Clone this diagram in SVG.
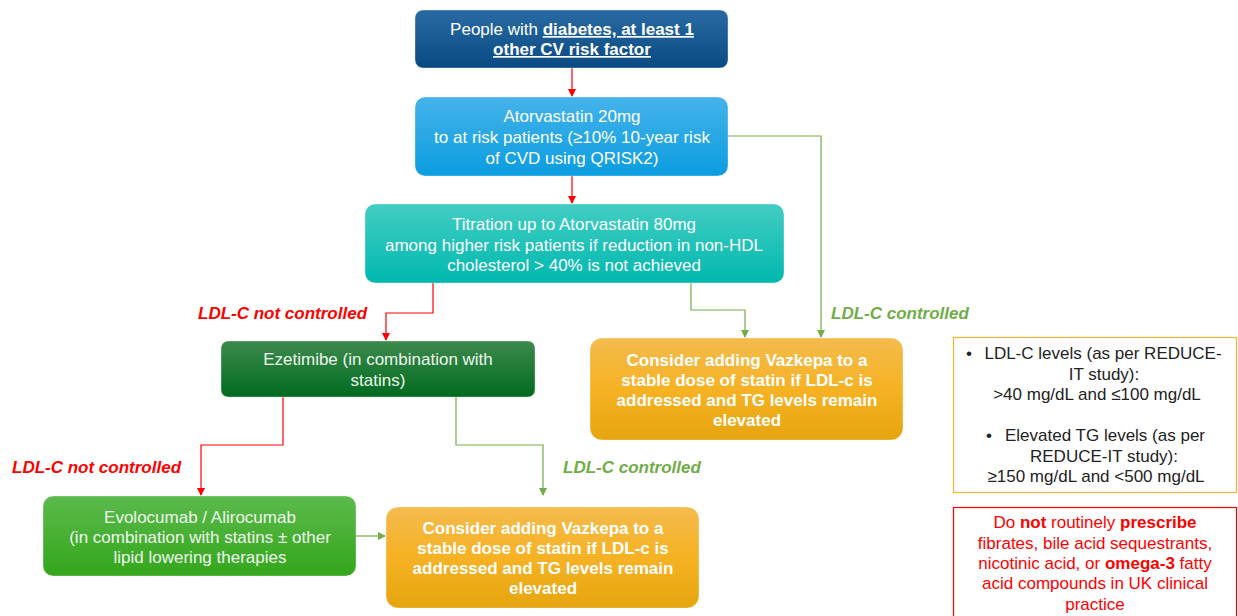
<svg xmlns="http://www.w3.org/2000/svg" width="1238" height="616" viewBox="0 0 1238 616">
<defs>
<linearGradient id="gNavy" x1="0" y1="0" x2="0" y2="1"><stop offset="0" stop-color="#2a6aa3"/><stop offset="1" stop-color="#0a4a82"/></linearGradient>
<linearGradient id="gSky" x1="0" y1="0" x2="0" y2="1"><stop offset="0" stop-color="#45b3ea"/><stop offset="1" stop-color="#0a9de0"/></linearGradient>
<linearGradient id="gTeal" x1="0" y1="0" x2="0" y2="1"><stop offset="0" stop-color="#43cdc3"/><stop offset="1" stop-color="#00b8ae"/></linearGradient>
<linearGradient id="gDkGreen" x1="0" y1="0" x2="0" y2="1"><stop offset="0" stop-color="#3d8a4c"/><stop offset="1" stop-color="#006b1f"/></linearGradient>
<linearGradient id="gGreen" x1="0" y1="0" x2="0" y2="1"><stop offset="0" stop-color="#5bba4b"/><stop offset="1" stop-color="#34a61c"/></linearGradient>
<linearGradient id="gOrange" x1="0" y1="0" x2="0" y2="1"><stop offset="0" stop-color="#f4bb4e"/><stop offset="0.5" stop-color="#f6b223"/><stop offset="1" stop-color="#e6a50f"/></linearGradient>
<marker id="aRed" markerWidth="8" markerHeight="8" refX="7" refY="4" orient="auto" markerUnits="userSpaceOnUse"><path d="M0,0 L8,4 L0,8 z" fill="#ff0000"/></marker>
<marker id="aGreen" markerWidth="8" markerHeight="8" refX="7" refY="4" orient="auto" markerUnits="userSpaceOnUse"><path d="M0,0 L8,4 L0,8 z" fill="#70ad47"/></marker>
<style>
text{font-family:"Liberation Sans",Arial,sans-serif;font-size:17px;}
.w{fill:#ffffff;text-anchor:middle;}
.wl{fill:#eef6ee;text-anchor:middle;}
.wb{fill:#ffffff;text-anchor:middle;font-weight:bold;}
.box{stroke:#ffffff;stroke-opacity:0.35;stroke-width:1;}
.red{stroke:#ff0000;stroke-width:1.2;fill:none;}
.grn{stroke:#70ad47;stroke-width:1.2;fill:none;}
.lr{fill:#ff0000;font-weight:bold;font-style:italic;}
.lg{fill:#70ad47;font-weight:bold;font-style:italic;}
.dk{fill:#222222;text-anchor:middle;}
.dkl{fill:#222222;}
.rd{fill:#ff0000;text-anchor:middle;}
</style>
</defs>
<rect width="1238" height="616" fill="#ffffff"/>

<g id="connectors">
<path class="red" d="M572,68 V96" marker-end="url(#aRed)"/>
<path class="red" d="M572,176 V203" marker-end="url(#aRed)"/>
<path class="grn" d="M728,136 H821 V337" marker-end="url(#aGreen)"/>
<path class="grn" d="M691,283 V310 H745 V337" marker-end="url(#aGreen)"/>
<path class="red" d="M433,283 V313 H386 V340" marker-end="url(#aRed)"/>
<path class="red" d="M283,397 V445 H201 V495" marker-end="url(#aRed)"/>
<path class="grn" d="M456,397 V445 H543 V495" marker-end="url(#aGreen)"/>
<path class="grn" d="M356,536 H385" marker-end="url(#aGreen)"/>
<text class="lr" x="198" y="319">LDL-C not controlled</text>
<text class="lg" x="831" y="319">LDL-C controlled</text>
<text class="lr" x="12" y="473">LDL-C not controlled</text>
<text class="lg" x="563" y="473">LDL-C controlled</text>
</g>

<g id="n1">
<rect class="box" x="415" y="10" width="313" height="58" rx="8" fill="url(#gNavy)"/>
<text class="w" x="572" y="35">People with <tspan font-weight="bold" text-decoration="underline">diabetes, at least 1</tspan></text>
<text class="wb" x="572" y="55" text-decoration="underline">other CV risk factor</text>
</g>

<g id="n2">
<rect class="box" x="415" y="97" width="313" height="79" rx="10" fill="url(#gSky)"/>
<text class="w" x="572" y="122">Atorvastatin 20mg</text>
<text class="w" x="572" y="143">to at risk patients (≥10% 10-year risk</text>
<text class="w" x="572" y="164">of CVD using QRISK2)</text>
</g>

<g id="n3">
<rect class="box" x="365" y="204" width="419" height="79" rx="10" fill="url(#gTeal)"/>
<text class="w" x="574" y="230">Titration up to Atorvastatin 80mg</text>
<text class="w" x="574" y="251">among higher risk patients if reduction in non-HDL</text>
<text class="w" x="574" y="271">cholesterol &gt; 40% is not achieved</text>
</g>

<g id="n4">
<rect class="box" x="221" y="341" width="314" height="56" rx="7" fill="url(#gDkGreen)"/>
<text class="wl" x="378" y="365">Ezetimibe (in combination with</text>
<text class="wl" x="378" y="386">statins)</text>
</g>

<g id="n5">
<rect class="box" x="590" y="338" width="313" height="102" rx="12" fill="url(#gOrange)"/>
<text class="wb" x="747" y="366">Consider adding Vazkepa to a</text>
<text class="wb" x="747" y="386">stable dose of statin if LDL-c is</text>
<text class="wb" x="747" y="406">addressed and TG levels remain</text>
<text class="wb" x="747" y="426">elevated</text>
</g>

<g id="n6">
<rect class="box" x="43" y="496" width="313" height="80" rx="10" fill="url(#gGreen)"/>
<text class="wl" x="200" y="523">Evolocumab / Alirocumab</text>
<text class="wl" x="200" y="543">(in combination with statins ± other</text>
<text class="wl" x="200" y="563">lipid lowering therapies</text>
</g>

<g id="n7">
<rect class="box" x="386" y="507" width="313" height="101" rx="12" fill="url(#gOrange)"/>
<text class="wb" x="543" y="534">Consider adding Vazkepa to a</text>
<text class="wb" x="543" y="554">stable dose of statin if LDL-c is</text>
<text class="wb" x="543" y="574">addressed and TG levels remain</text>
<text class="wb" x="543" y="594">elevated</text>
</g>

<g id="n8">
<rect x="953.5" y="337.5" width="283" height="155" fill="#ffffff" stroke="#f5b731" stroke-width="1.2"/>
<text class="dkl" x="966" y="359">•</text>
<text class="dk" x="1103" y="359">LDL-C levels (as per REDUCE-</text>
<text class="dk" x="1104" y="380">IT study):</text>
<text class="dk" x="1097" y="400">&gt;40 mg/dL and ≤100 mg/dL</text>
<text class="dkl" x="986" y="441">•</text>
<text class="dk" x="1105" y="441">Elevated TG levels (as per</text>
<text class="dk" x="1104" y="462">REDUCE-IT study):</text>
<text class="dk" x="1096" y="482">≥150 mg/dL and &lt;500 mg/dL</text>
</g>

<g id="n9">
<rect x="953.5" y="507.5" width="283" height="115" fill="#ffffff" stroke="#ff0000" stroke-width="1.2"/>
<text class="rd" x="1095" y="528">Do <tspan font-weight="bold">not</tspan> routinely <tspan font-weight="bold">prescribe</tspan></text>
<text class="rd" x="1095" y="549">fibrates, bile acid sequestrants,</text>
<text class="rd" x="1095" y="569">nicotinic acid, or <tspan font-weight="bold">omega-3</tspan> fatty</text>
<text class="rd" x="1095" y="589">acid compounds in UK clinical</text>
<text class="rd" x="1095" y="610">practice</text>
</g>
</svg>
